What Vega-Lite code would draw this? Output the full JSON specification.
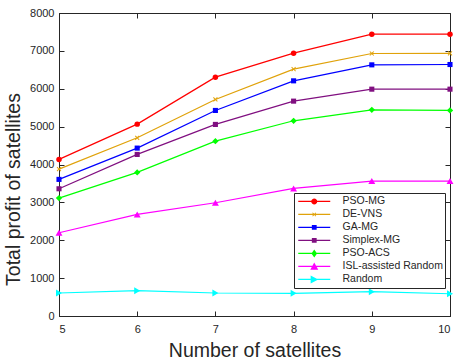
{
  "$schema": "https://vega.github.io/schema/vega-lite/v6.json",
  "width": 391,
  "height": 303,
  "autosize": "none",
  "padding": {"left": 59, "top": 13, "right": 6, "bottom": 44},
  "background": "white",
  "config": {
    "font": "Liberation Sans",
    "view": {"stroke": "#262626", "strokeWidth": 1},
    "axis": {
      "grid": false,
      "domainColor": "#262626",
      "tickColor": "#262626",
      "labelColor": "#262626",
      "titleColor": "#262626",
      "labelFont": "Liberation Sans",
      "titleFont": "Liberation Sans",
      "labelFontSize": 11,
      "titleFontSize": 19.5,
      "titleFontWeight": "normal",
      "tickSize": -5,
      "labelPadding": 10
    },
    "legend": {
      "strokeColor": "#262626",
      "fillColor": "white",
      "cornerRadius": 0,
      "padding": 2,
      "labelFont": "Liberation Sans",
      "labelFontSize": 10.5,
      "labelColor": "#262626",
      "rowPadding": 0,
      "clipHeight": 12.9
    }
  },
  "data": {
    "values": [
      {"n": 5, "series": "PSO-MG", "value": 4135},
      {"n": 6, "series": "PSO-MG", "value": 5066},
      {"n": 7, "series": "PSO-MG", "value": 6306},
      {"n": 8, "series": "PSO-MG", "value": 6939},
      {"n": 9, "series": "PSO-MG", "value": 7440},
      {"n": 10, "series": "PSO-MG", "value": 7440},
      {"n": 5, "series": "DE-VNS", "value": 3879},
      {"n": 6, "series": "DE-VNS", "value": 4705},
      {"n": 7, "series": "DE-VNS", "value": 5718},
      {"n": 8, "series": "DE-VNS", "value": 6517},
      {"n": 9, "series": "DE-VNS", "value": 6931},
      {"n": 10, "series": "DE-VNS", "value": 6935},
      {"n": 5, "series": "GA-MG", "value": 3607},
      {"n": 6, "series": "GA-MG", "value": 4433},
      {"n": 7, "series": "GA-MG", "value": 5427},
      {"n": 8, "series": "GA-MG", "value": 6209},
      {"n": 9, "series": "GA-MG", "value": 6631},
      {"n": 10, "series": "GA-MG", "value": 6640},
      {"n": 5, "series": "Simplex-MG", "value": 3359},
      {"n": 6, "series": "Simplex-MG", "value": 4266},
      {"n": 7, "series": "Simplex-MG", "value": 5058},
      {"n": 8, "series": "Simplex-MG", "value": 5673},
      {"n": 9, "series": "Simplex-MG", "value": 5989},
      {"n": 10, "series": "Simplex-MG", "value": 5989},
      {"n": 5, "series": "PSO-ACS", "value": 3113},
      {"n": 6, "series": "PSO-ACS", "value": 3791},
      {"n": 7, "series": "PSO-ACS", "value": 4617},
      {"n": 8, "series": "PSO-ACS", "value": 5154},
      {"n": 9, "series": "PSO-ACS", "value": 5443},
      {"n": 10, "series": "PSO-ACS", "value": 5427},
      {"n": 5, "series": "ISL-assisted Random", "value": 2199},
      {"n": 6, "series": "ISL-assisted Random", "value": 2683},
      {"n": 7, "series": "ISL-assisted Random", "value": 2990},
      {"n": 8, "series": "ISL-assisted Random", "value": 3369},
      {"n": 9, "series": "ISL-assisted Random", "value": 3562},
      {"n": 10, "series": "ISL-assisted Random", "value": 3562},
      {"n": 5, "series": "Random", "value": 607},
      {"n": 6, "series": "Random", "value": 668},
      {"n": 7, "series": "Random", "value": 607},
      {"n": 8, "series": "Random", "value": 599},
      {"n": 9, "series": "Random", "value": 641},
      {"n": 10, "series": "Random", "value": 588}
    ]
  },
  "resolve": {
    "axis": {"x": "independent", "y": "independent"},
    "legend": {"color": "independent", "shape": "independent"}
  },
  "layer": [
    {
      "mark": {"type": "line", "strokeWidth": 1.2},
      "encoding": {
        "x": {"field": "n", "type": "quantitative", "scale": {"domain": [5, 10], "nice": false, "zero": false},
              "axis": {"values": [5, 6, 7, 8, 9, 10], "format": "d", "title": "Number of satellites", "titlePadding": 7, "labelPadding": 12}},
        "y": {"field": "value", "type": "quantitative", "scale": {"domain": [0, 8000], "nice": false},
              "axis": {"values": [0, 1000, 2000, 3000, 4000, 5000, 6000, 7000, 8000], "format": "d", "title": "Total profit of satellites", "titlePadding": 6, "titleY": 176}},
        "color": {"field": "series", "type": "nominal",
                  "scale": {"domain": ["PSO-MG", "DE-VNS", "GA-MG", "Simplex-MG", "PSO-ACS", "ISL-assisted Random", "Random"],
                            "range": ["#ff0000", "#e0a20a", "#0000ff", "#800f80", "#00ff00", "#ff00ff", "#00ffff"]},
                  "legend": null}
      }
    },
    {
      "transform": [{"filter": {"field": "series", "equal": "PSO-MG"}}],
      "mark": {"type": "point", "filled": true, "opacity": 1, "shape": "circle", "size": 30},
      "encoding": {
        "x": {"field": "n", "type": "quantitative", "axis": null},
        "y": {"field": "value", "type": "quantitative", "axis": null},
        "color": {"field": "series", "type": "nominal", "legend": null}
      }
    },
    {
      "transform": [{"filter": {"field": "series", "equal": "DE-VNS"}}],
      "mark": {"type": "point", "filled": true, "opacity": 1, "shape": "M-1,-0.7L-0.7,-1L0,-0.3L0.7,-1L1,-0.7L0.3,0L1,0.7L0.7,1L0,0.3L-0.7,1L-1,0.7L-0.3,0Z", "size": 22},
      "encoding": {
        "x": {"field": "n", "type": "quantitative", "axis": null},
        "y": {"field": "value", "type": "quantitative", "axis": null},
        "color": {"field": "series", "type": "nominal", "legend": null}
      }
    },
    {
      "transform": [{"filter": {"field": "series", "oneOf": ["GA-MG", "Simplex-MG"]}}],
      "mark": {"type": "point", "filled": true, "opacity": 1, "shape": "square", "size": 26},
      "encoding": {
        "x": {"field": "n", "type": "quantitative", "axis": null},
        "y": {"field": "value", "type": "quantitative", "axis": null},
        "color": {"field": "series", "type": "nominal", "legend": null}
      }
    },
    {
      "transform": [{"filter": {"field": "series", "equal": "PSO-ACS"}}],
      "mark": {"type": "point", "filled": true, "opacity": 1, "shape": "diamond", "size": 40},
      "encoding": {
        "x": {"field": "n", "type": "quantitative", "axis": null},
        "y": {"field": "value", "type": "quantitative", "axis": null},
        "color": {"field": "series", "type": "nominal", "legend": null}
      }
    },
    {
      "transform": [{"filter": {"field": "series", "equal": "ISL-assisted Random"}}],
      "mark": {"type": "point", "filled": true, "opacity": 1, "shape": "triangle-up", "size": 48},
      "encoding": {
        "x": {"field": "n", "type": "quantitative", "axis": null},
        "y": {"field": "value", "type": "quantitative", "axis": null},
        "color": {"field": "series", "type": "nominal", "legend": null}
      }
    },
    {
      "transform": [{"filter": {"field": "series", "equal": "Random"}}],
      "mark": {"type": "point", "filled": true, "opacity": 1, "shape": "triangle-right", "size": 48},
      "encoding": {
        "x": {"field": "n", "type": "quantitative", "axis": null},
        "y": {"field": "value", "type": "quantitative", "axis": null},
        "color": {"field": "series", "type": "nominal", "legend": null}
      }
    },
    {
      "transform": [{"filter": "datum.n > 100"}],
      "mark": {"type": "point", "filled": true, "opacity": 1},
      "encoding": {
        "color": {"field": "series", "type": "nominal",
                  "legend": {"title": null, "orient": "none", "legendX": 235, "legendY": 180, "symbolSize": 64, "symbolStrokeWidth": 0, "symbolOffset": 13, "labelOffset": 23, "labelExpr": "datum.label + '    '"}},
        "shape": {"field": "series", "type": "nominal",
                  "scale": {"domain": ["PSO-MG", "DE-VNS", "GA-MG", "Simplex-MG", "PSO-ACS", "ISL-assisted Random", "Random"],
                            "range": [
                              "M-4,-0.15H4V0.15H-4ZM0,-0.75A0.75,0.75 0 1,1 0,0.75A0.75,0.75 0 1,1 0,-0.75Z",
                              "M-4,-0.15H4V0.15H-4ZM-0.5,-0.35L-0.35,-0.5L0,-0.15L0.35,-0.5L0.5,-0.35L0.15,0L0.5,0.35L0.35,0.5L0,0.15L-0.35,0.5L-0.5,0.35L-0.15,0Z",
                              "M-4,-0.15H4V0.15H-4ZM-0.6,-0.6H0.6V0.6H-0.6Z",
                              "M-4,-0.15H4V0.15H-4ZM-0.6,-0.6H0.6V0.6H-0.6Z",
                              "M-4,-0.15H4V0.15H-4ZM0,-1L0.7,0L0,1L-0.7,0Z",
                              "M-4,-0.15H4V0.15H-4ZM0,-1L1,0.8L-1,0.8Z",
                              "M-4,-0.15H4V0.15H-4ZM-0.9,-1L1,0L-0.9,1Z"
                            ]},
                  "legend": {"title": null, "orient": "none", "legendX": 235, "legendY": 180, "symbolSize": 64, "symbolStrokeWidth": 0, "symbolOffset": 13, "labelOffset": 23, "labelExpr": "datum.label + '    '"}}
      }
    },
    {
      "mark": {"type": "point", "opacity": 0},
      "encoding": {
        "x": {"field": "n", "type": "quantitative",
              "axis": {"orient": "top", "values": [5, 6, 7, 8, 9, 10], "labels": false, "title": null, "domain": false}},
        "y": {"field": "value", "type": "quantitative",
              "axis": {"orient": "right", "values": [0, 1000, 2000, 3000, 4000, 5000, 6000, 7000, 8000], "labels": false, "title": null, "domain": false}}
      }
    }
  ]
}
